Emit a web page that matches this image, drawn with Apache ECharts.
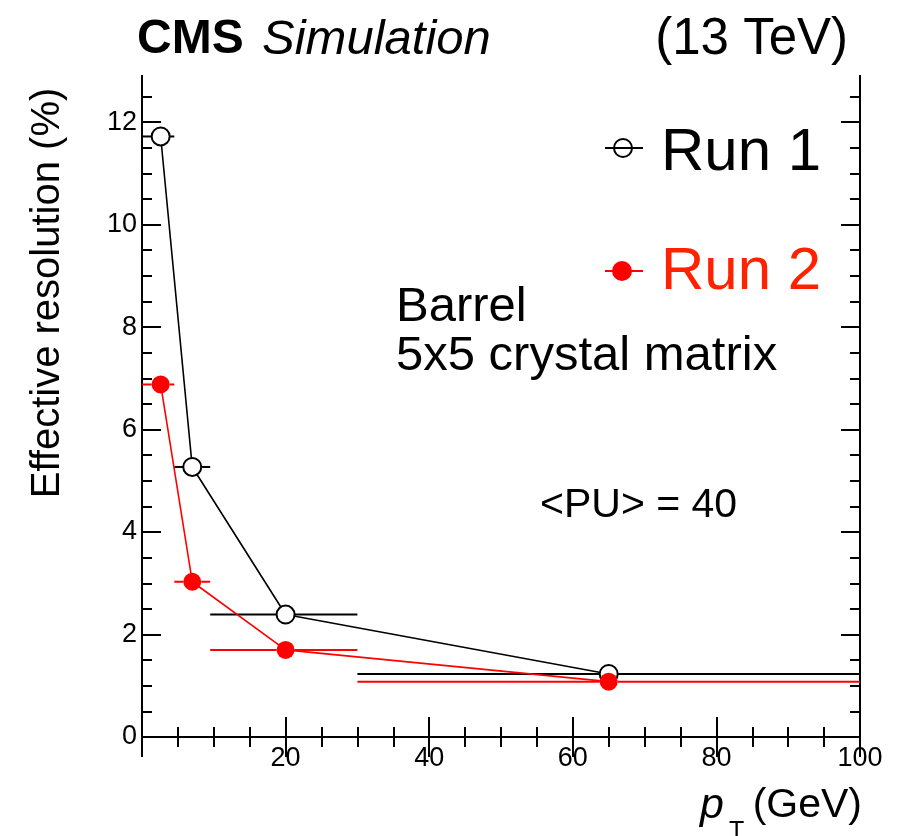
<!DOCTYPE html>
<html>
<head>
<meta charset="utf-8">
<script src="https://cdn.jsdelivr.net/npm/echarts@6/dist/echarts.min.js"></script>
<style>
  html, body { margin: 0; padding: 0; background: #fff; }
  #chart { width: 913px; height: 836px; }
</style>
</head>
<body>
<div id="chart"></div>
<script>
// pT bins (GeV): bin centre, lower edge, upper edge
const ptCenter = [2.6, 7.0, 20, 65];
const ptLow    = [0, 4.5, 9.5, 30];
const ptHigh   = [4.5, 9.5, 30, 100];

// Effective resolution (%) per bin
const run1Res = [11.72, 5.27, 2.39, 1.23];
const run2Res = [6.88, 3.03, 1.70, 1.08];

// Axis tick values
const xTicks = [0, 20, 40, 60, 80, 100];
const yMajor = [0, 2, 4, 6, 8, 10, 12];
const yMinor = [0.5, 1, 1.5, 2.5, 3, 3.5, 4.5, 5, 5.5, 6.5, 7, 7.5, 8.5, 9, 9.5, 10.5, 11, 11.5, 12.5];

const FONT = "'Liberation Sans', Arial, Helvetica, sans-serif";
const BLACK = '#000000';
const RED = '#ff0000';
const MARKER_R = 9;

const chart = echarts.init(document.getElementById('chart'), null, { renderer: 'canvas' });

function points(ys) {
  return ptCenter.map((x, i) => [x, ys[i]]);
}
function errRows(ys) {
  return ptCenter.map((x, i) => [x, ptLow[i], ptHigh[i], ys[i]]);
}

// horizontal bin-width bars, left out inside the marker
function errRender(color) {
  return function (params, api) {
    const y = api.value(3);
    const c = api.coord([api.value(0), y]);
    const lo = api.coord([api.value(1), y]);
    const hi = api.coord([api.value(2), y]);
    const kids = [];
    if (c[0] - MARKER_R > lo[0]) {
      kids.push({ type: 'line', shape: { x1: lo[0], y1: c[1], x2: c[0] - MARKER_R, y2: c[1] },
        style: { stroke: color, lineWidth: 2 } });
    }
    if (hi[0] > c[0] + MARKER_R) {
      kids.push({ type: 'line', shape: { x1: c[0] + MARKER_R, y1: c[1], x2: hi[0], y2: c[1] },
        style: { stroke: color, lineWidth: 2 } });
    }
    return { type: 'group', children: kids };
  };
}

const axisLineStyle = { show: true, lineStyle: { color: BLACK, width: 2 } };

function xAxisDef(pos, labels) {
  return {
    type: 'value', position: pos, min: 0, max: 100, interval: 20,
    axisLine: axisLineStyle,
    axisTick: { show: true, inside: true, length: 20, lineStyle: { color: BLACK, width: 2 } },
    minorTick: { show: true, splitNumber: 4, length: 10, lineStyle: { color: BLACK, width: 2 } },
    splitLine: { show: false }, minorSplitLine: { show: false },
    axisLabel: labels ? {
      show: true, margin: 8, color: BLACK, fontSize: 27, fontFamily: FONT,
      formatter: v => (v === 0 ? '' : String(v))
    } : { show: false }
  };
}

function yAxisDef(pos, values, len, labels) {
  return {
    type: 'value', position: pos, min: 0, max: 12.9,
    axisLine: axisLineStyle,
    axisTick: { show: true, inside: true, length: len, customValues: values,
      lineStyle: { color: BLACK, width: 2 } },
    splitLine: { show: false },
    axisLabel: labels ? {
      show: true, margin: 5, color: BLACK, fontSize: 27, fontFamily: FONT, customValues: values
    } : { show: false, customValues: values }
  };
}

const option = {
  backgroundColor: '#ffffff',
  animation: false,
  grid: { left: 142, right: 53, top: 76, bottom: 99, containLabel: false },
  xAxis: [xAxisDef('bottom', true), xAxisDef('top', false)],
  yAxis: [
    yAxisDef('left', yMajor, 19, true),
    yAxisDef('left', yMinor, 10, false),
    yAxisDef('right', yMajor, 19, false),
    yAxisDef('right', yMinor, 10, false)
  ],
  series: [
    { name: 'Run 1 line', type: 'line', data: points(run1Res), showSymbol: false, z: 2,
      lineStyle: { color: BLACK, width: 1.6 }, silent: true },
    { name: 'Run 1 bins', type: 'custom', data: errRows(run1Res), renderItem: errRender(BLACK), z: 2 },
    { name: 'Run 1', type: 'scatter', data: points(run1Res), symbol: 'circle',
      symbolSize: MARKER_R * 2, z: 3,
      itemStyle: { color: '#ffffff', borderColor: BLACK, borderWidth: 2, opacity: 1 } },
    { name: 'Run 2 line', type: 'line', data: points(run2Res), showSymbol: false, z: 4,
      lineStyle: { color: RED, width: 1.6 }, silent: true },
    { name: 'Run 2 bins', type: 'custom', data: errRows(run2Res), renderItem: errRender(RED), z: 4 },
    { name: 'Run 2', type: 'scatter', data: points(run2Res), symbol: 'circle',
      symbolSize: MARKER_R * 2, z: 5,
      itemStyle: { color: RED, borderColor: RED, borderWidth: 0, opacity: 1 } }
  ],
  graphic: [
    // header
    { type: 'text', x: 137, y: 40, style: { text: 'CMS', font: `bold 48px ${FONT}`, fill: BLACK, verticalAlign: 'middle' } },
    { type: 'text', x: 262, y: 40, style: { text: 'Simulation', font: `italic 49px ${FONT}`, fill: BLACK, verticalAlign: 'middle' } },
    { type: 'text', x: 848, y: 40, style: { text: '(13 TeV)', font: `51px ${FONT}`, fill: BLACK, align: 'right', verticalAlign: 'middle' } },

    // axis titles
    { type: 'text', x: 48, y: 293, rotation: Math.PI / 2,
      style: { text: 'Effective resolution (%)', font: `40px ${FONT}`, fill: BLACK, align: 'center', verticalAlign: 'middle' } },
    { type: 'text', x: 700, y: 806, style: { text: 'p', font: `italic 43px ${FONT}`, fill: BLACK, verticalAlign: 'middle' } },
    { type: 'text', x: 729, y: 832, style: { text: 'T', font: `25px ${FONT}`, fill: BLACK, verticalAlign: 'middle' } },
    { type: 'text', x: 862, y: 806, style: { text: '(GeV)', font: `41px ${FONT}`, fill: BLACK, align: 'right', verticalAlign: 'middle' } },

    // legend
    { type: 'line', shape: { x1: 605, y1: 148, x2: 643, y2: 148 }, style: { stroke: BLACK, lineWidth: 2 } },
    { type: 'circle', shape: { cx: 623, cy: 148, r: 9 }, style: { fill: '#ffffff', stroke: BLACK, lineWidth: 2 } },
    { type: 'line', shape: { x1: 623 - 9, y1: 148, x2: 623 + 9, y2: 148 }, style: { stroke: BLACK, lineWidth: 2 } },
    { type: 'text', x: 661, y: 153, style: { text: 'Run 1', font: `60px ${FONT}`, fill: BLACK, verticalAlign: 'middle' } },
    { type: 'line', shape: { x1: 605, y1: 271, x2: 643, y2: 271 }, style: { stroke: RED, lineWidth: 2 } },
    { type: 'circle', shape: { cx: 622, cy: 271, r: 10 }, style: { fill: RED } },
    { type: 'text', x: 661, y: 272, style: { text: 'Run 2', font: `60px ${FONT}`, fill: '#ff2200', verticalAlign: 'middle' } },

    // annotations
    { type: 'text', x: 396, y: 307, style: { text: 'Barrel', font: `49px ${FONT}`, fill: BLACK, verticalAlign: 'middle' } },
    { type: 'text', x: 396, y: 356, style: { text: '5x5 crystal matrix', font: `49px ${FONT}`, fill: BLACK, verticalAlign: 'middle' } },
    { type: 'text', x: 540, y: 506, style: { text: '<PU> = 40', font: `41px ${FONT}`, fill: BLACK, verticalAlign: 'middle' } }
  ]
};

chart.setOption(option);
</script>
</body>
</html>
